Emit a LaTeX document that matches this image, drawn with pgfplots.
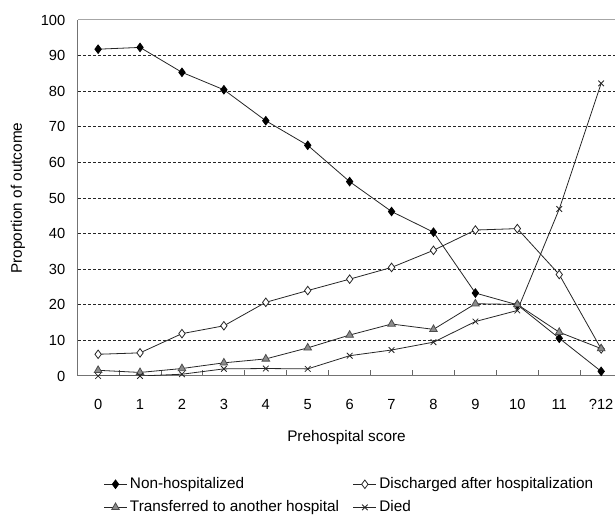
\documentclass[border=0pt]{standalone}
\usepackage{fontspec}
\setmainfont{Liberation Sans}
\usepackage{pgfplots}
\pgfplotsset{compat=1.18}
\begin{document}
\begin{tikzpicture}[font=\fontsize{11.5pt}{13.5pt}\selectfont]
\useasboundingbox (-58.5pt,-105.75pt) rectangle (402.75pt,282pt);
\begin{axis}[
  at={(0,0)}, anchor=south west, scale only axis,
  width=402.75pt, height=267pt,
  xmin=-0.48, xmax=12.33, ymin=0, ymax=100,
  axis x line*=bottom, axis y line*=left,
  axis line style={draw=black!55, line width=0.75pt},
  /pgf/number format/assume math mode=true,
  tick label style={font=\fontsize{11pt}{13pt}\selectfont},
  tick align=inside,
  xtick={0,...,12},
  xticklabels={0,1,2,3,4,5,6,7,8,9,10,11,?12},
  major x tick style={draw=none},
  minor xtick={0.5,1.5,...,11.5},
  minor tick length=4.5pt,
  minor x tick style={draw=black!60, line width=0.75pt},
  xticklabel style={yshift=-14pt},
  ytick={0,10,...,100},
  major y tick style={draw=none},
  yticklabel style={xshift=-6pt},
  extra y ticks={10,20,...,90},
  extra y tick labels={},
  extra y tick style={ymajorgrids=true, major tick length=0pt},
  major grid style={draw=black!85, line width=0.6pt, dash pattern=on 2.25pt off 1.5pt},
  xlabel={Prehospital score},
  xlabel style={at={(axis description cs:0.5,0)}, anchor=center, yshift=-46.5pt},
  ylabel={Proportion of outcome},
  ylabel style={at={(axis description cs:0,0.5)}, anchor=center, yshift=45pt},
  legend columns=2,
  legend cell align=left,
  legend style={draw=none, fill=none, at={(0.04,-0.27)}, anchor=north west,
    /tikz/every even column/.append style={column sep=8.5pt}, row sep=3.5pt,
    font=\fontsize{11.5pt}{13.5pt}\selectfont},
]
\draw[black!35, line width=0.75pt] (rel axis cs:0,1) -- (rel axis cs:1,1);
\addplot[black!85, line width=0.6pt, mark=diamond*, mark size=3.2pt, mark options={fill=black, draw=black}]
coordinates {(0,91.8) (1,92.3) (2,85.3) (3,80.4) (4,71.7) (5,64.8) (6,54.6) (7,46.2) (8,40.4) (9,23.3) (10,20) (11,10.6) (12,1.3)};
\addlegendentry{Non-hospitalized}
\addplot[black!85, line width=0.6pt, mark=diamond*, mark size=3.2pt, mark options={fill=white, draw=black!85}]
coordinates {(0,6.1) (1,6.5) (2,11.9) (3,14.1) (4,20.7) (5,24) (6,27.2) (7,30.5) (8,35.3) (9,41) (10,41.4) (11,28.5) (12,7.6)};
\addlegendentry{Discharged after hospitalization}
\addplot[black!85, line width=0.6pt, mark=triangle*, mark size=3.3pt, mark options={fill=black!45, draw=black!70}]
coordinates {(0,1.6) (1,1) (2,2.1) (3,3.7) (4,4.8) (5,7.9) (6,11.5) (7,14.6) (8,13.1) (9,20.3) (10,20.1) (11,12.3) (12,7.7)};
\addlegendentry{Transferred to another hospital}
\addplot[black!85, line width=0.6pt, mark=x, mark size=3pt, mark options={draw=black!85}]
coordinates {(0,0) (1,0) (2,0.5) (3,2) (4,2.1) (5,2) (6,5.7) (7,7.3) (8,9.5) (9,15.3) (10,18.4) (11,46.9) (12,82.2)};
\addlegendentry{Died}
\end{axis}
\end{tikzpicture}
\end{document}
